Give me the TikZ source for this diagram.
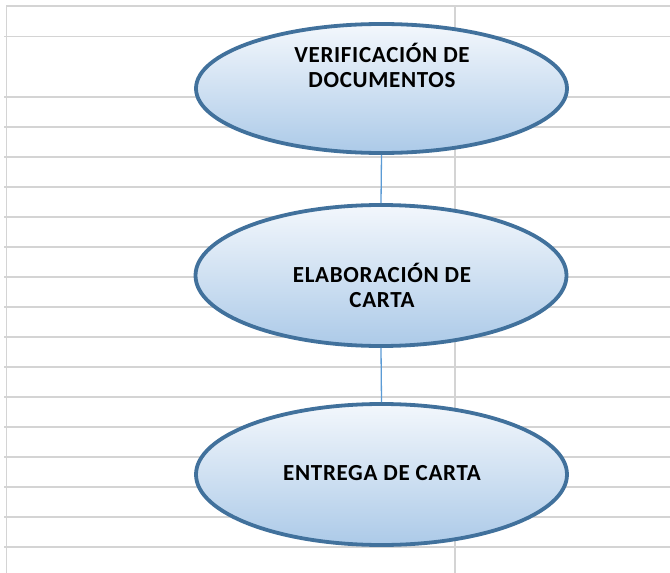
\documentclass[tikz,border=0pt]{standalone}
\usepackage{fontspec}
\setmainfont{Carlito}[BoldFont={Carlito Bold}]
\newfontfamily\procfont{Carlito Bold}[LetterSpace=3]
\usetikzlibrary{shapes.geometric}
\definecolor{gridgray}{HTML}{D4D4D4}
\definecolor{procborder}{HTML}{41719C}
\definecolor{proctop}{HTML}{F3F7FC}
\definecolor{procbottom}{HTML}{ACCAE8}
\definecolor{linkblue}{HTML}{5B9BD5}
\begin{document}
\begin{tikzpicture}[x=1pt,y=-1pt,
  gridline/.style={draw=gridgray,line width=1.8pt},
  proc/.style={ellipse, draw=procborder, line width=3.8pt,
    top color=proctop, bottom color=procbottom, inner sep=0pt,
    minimum width=371pt},
  proctext/.style={font=\procfont\fontsize{23}{25}\selectfont, align=center, inner sep=0pt},
  link/.style={draw=linkblue, line width=1.3pt}]
\path[fill=white] (0,0) rectangle (670,573);
\useasboundingbox (0,0) rectangle (670,573);
% spreadsheet grid
\draw[gridline] (6.5,6) -- (670,6);
\draw[gridline] (4,36.5) -- (670,36.5);
\foreach \k in {0,...,15}{
  \draw[gridline] (4,96.7+30*\k) -- (670,96.7+30*\k);
}
\draw[gridline] (6.5,5) -- (6.5,573);
\draw[gridline] (455,5) -- (455,573);
% process ellipses
\node[proc, minimum height=129pt] (e1) at (381.5,88.5) {};
\node[proc, minimum height=141pt] (e2) at (381,275.5) {};
\node[proc, minimum height=141pt] (e3) at (381.5,474.5) {};
\node[proctext] (t1) at (382,65) {VERIFICACIÓN DE\\DOCUMENTOS};
\node[proctext] (t2) at (382,285.5) {ELABORACIÓN DE\\CARTA};
\node[proctext] (t3) at (382,473) {ENTREGA DE CARTA};
% connectors
\draw[link] (e1.south) -- (e2.north);
\draw[link] (e2.south) -- (e3.north);
\end{tikzpicture}
\end{document}
